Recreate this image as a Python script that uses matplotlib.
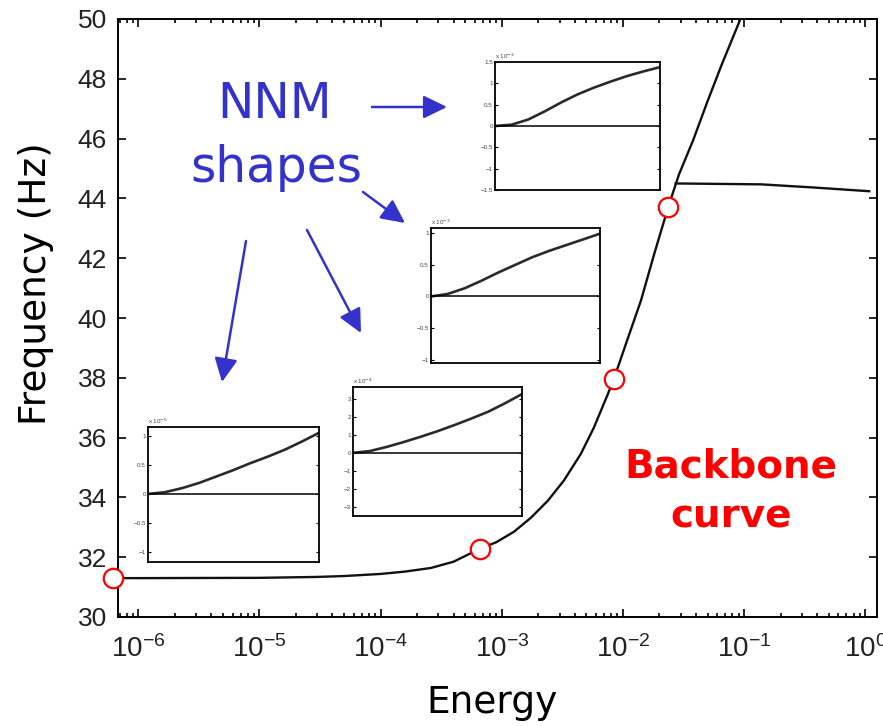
import numpy as np
import matplotlib.pyplot as plt

plt.rcParams['font.family'] = ['Liberation Sans', 'DejaVu Sans']

W, H = 883, 726

# backbone curve (energy, frequency in Hz)
energy = [6.8e-7, 1e-6, 1e-5, 3e-5, 5e-5, 1e-4, 1.6e-4, 2.6e-4, 4e-4, 6.58e-4,
          9e-4, 1.26e-3, 1.74e-3, 2.4e-3, 3.25e-3, 4.5e-3, 5.75e-3, 7.5e-3,
          8.43e-3, 1.1e-2, 1.41e-2, 1.8e-2, 2.36e-2, 2.9e-2, 3.8e-2, 4.94e-2,
          6.5e-2, 9.44e-2]
freq = [31.3, 31.3, 31.31, 31.34, 31.37, 31.44, 31.52, 31.64, 31.85, 32.28,
        32.5, 32.85, 33.32, 33.89, 34.56, 35.46, 36.33, 37.45,
        37.97, 39.33, 40.59, 42.1, 43.70, 44.8, 45.95, 47.2,
        48.45, 50.05]

# second branch
branch_energy = [0.0272, 0.138, 0.358, 1.08]
branch_freq = [44.5, 44.47, 44.37, 44.24]

# marked points on the backbone
pt_energy = [6.2e-7, 6.58e-4, 8.43e-3, 2.36e-2]
pt_freq = [31.3, 32.28, 37.97, 43.70]

xticks = [1e-6, 1e-5, 1e-4, 1e-3, 1e-2, 1e-1, 1e0]
yticks = [30, 32, 34, 36, 38, 40, 42, 44, 46, 48, 50]

# NNM shape insets
shape_x = [0, 0.1, 0.2, 0.3, 0.4, 0.5, 0.6, 0.7, 0.8, 0.9, 1.0]
shape_1 = [0, 0.03, 0.15, 0.34, 0.55, 0.74, 0.9, 1.04, 1.17, 1.28, 1.38]
shape_2 = [0, 0.04, 0.13, 0.25, 0.38, 0.5, 0.62, 0.72, 0.81, 0.9, 0.99]
shape_3 = [0, 0.1, 0.33, 0.6, 0.89, 1.2, 1.54, 1.9, 2.28, 2.75, 3.26]
shape_4 = [0, 0.03, 0.1, 0.19, 0.3, 0.41, 0.53, 0.64, 0.76, 0.9, 1.05]
shape_ticks_1 = [-1.5, -1, -0.5, 0, 0.5, 1, 1.5]
shape_ticks_2 = [-1, -0.5, 0, 0.5, 1]
shape_ticks_3 = [-3, -2, -1, 0, 1, 2, 3]
shape_ticks_4 = [-1, -0.5, 0, 0.5, 1]
shape_exp = ['-3', '-3', '-4', '-5']


def fx(px):
    return px / W


def fy(py):
    return 1 - py / H


fig = plt.figure(figsize=(W / 100, H / 100), dpi=100)
ax = fig.add_axes([fx(118), fy(617), fx(877 - 118), (617 - 19) / H])

ax.plot(energy, freq, color='#111111', lw=1.7)
ax.plot(branch_energy, branch_freq, color='#111111', lw=1.7)
ax.plot(pt_energy, pt_freq, 'o', ms=14, mfc='white', mec='red', mew=1.6,
        clip_on=False, zorder=5)

ax.set_xscale('log')
ax.set_xlim(6.8e-7, 1.25)
ax.set_ylim(30, 50)
ax.set_xticks(xticks)
ax.set_yticks(yticks)
ax.tick_params(which='both', direction='in', top=True, right=True,
               labelsize=19, labelcolor='#222222', width=1.2)
ax.tick_params(which='major', length=6)
ax.tick_params(which='minor', length=3)
ax.tick_params(axis='y', pad=8)
ax.tick_params(axis='x', pad=13, labelsize=20)
for s in ax.spines.values():
    s.set_linewidth(1.4)

fig.text(fx(492), fy(713), 'Energy', fontsize=27, family='DejaVu Sans',
         ha='center', va='baseline')
fig.text(fx(36), fy(284), 'Frequency (Hz)', fontsize=27, family='DejaVu Sans',
         rotation=90, ha='center', va='center')

# insets
boxes = [(495, 62, 660, 190), (431, 228, 600, 363),
         (353, 387, 522, 516), (148, 427, 319, 562)]
shapes = [shape_1, shape_2, shape_3, shape_4]
ticks = [shape_ticks_1, shape_ticks_2, shape_ticks_3, shape_ticks_4]
ylims = [(-1.5, 1.5), (-1.05, 1.08), (-3.5, 3.65), (-1.17, 1.15)]
for (x0, y0, x1, y1), sh, tk, yl, ex in zip(boxes, shapes, ticks, ylims, shape_exp):
    ia = fig.add_axes([fx(x0), fy(y1), fx(x1 - x0), (y1 - y0) / H])
    ia.plot(shape_x, sh, color='#2a2a2a', lw=1.9)
    ia.axhline(0, color='black', lw=1.1)
    ia.set_xlim(0, 1)
    ia.set_ylim(*yl)
    ia.set_xticks([])
    ia.set_yticks(tk)
    ia.set_yticklabels([('%g' % t).replace('-', '\u2212') for t in tk])
    ia.tick_params(direction='in', right=True, length=2.5, width=0.8,
                   labelsize=4.5, labelcolor='#444444', pad=1.5)
    for s in ia.spines.values():
        s.set_linewidth(1.3)
    ia.text(0, 1.01, 'x 10$^{%s}$' % ex, transform=ia.transAxes,
            fontsize=4.5, color='#444444', ha='left', va='bottom')

# annotations
blue = '#3333cc'
fig.text(fx(275), fy(118), 'NNM', fontsize=35, color=blue,
         family='DejaVu Sans', ha='center', va='baseline')
fig.text(fx(276), fy(182), 'shapes', fontsize=35, color=blue,
         family='DejaVu Sans', ha='center', va='baseline')
arrows = [((372, 107), (447, 107)), ((363, 192), (405, 223)),
          ((307, 230), (361, 333)), ((246, 241), (222, 382))]
for (tx, ty), (hx, hy) in arrows:
    fig.add_artist(plt.Annotation(
        '', xy=(fx(hx), fy(hy)), xytext=(fx(tx), fy(ty)),
        xycoords='figure fraction', textcoords='figure fraction',
        arrowprops=dict(arrowstyle='-|>,head_length=0.45,head_width=0.22',
                        mutation_scale=32, color=blue, lw=1.8,
                        shrinkA=0, shrinkB=0)))

fig.text(fx(731), fy(477), 'Backbone', fontsize=28, color='red',
         weight='bold', family='DejaVu Sans', ha='center', va='baseline')
fig.text(fx(731), fy(527), 'curve', fontsize=28, color='red',
         weight='bold', family='DejaVu Sans', ha='center', va='baseline')

fig.savefig('out.png', dpi=100)
